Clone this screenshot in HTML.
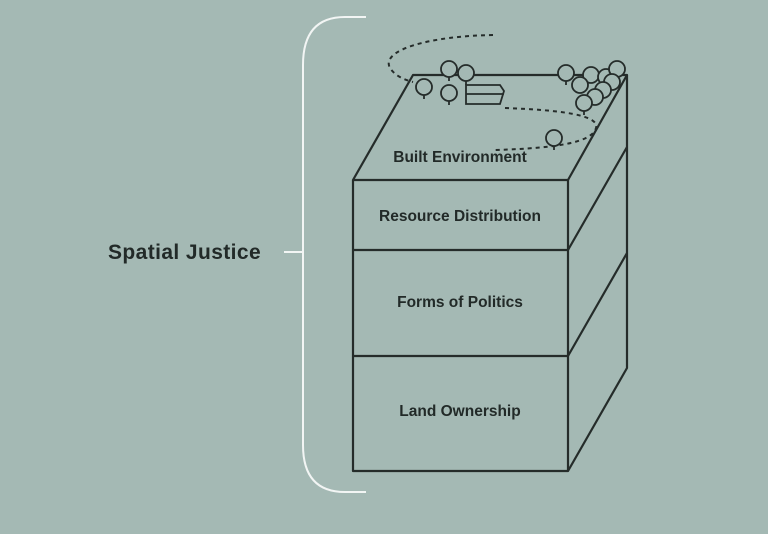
<!DOCTYPE html>
<html><head><meta charset="utf-8"><style>
html,body{margin:0;padding:0;background:#a4b9b4;}
svg{display:block}
text{font-family:"Liberation Sans",sans-serif;font-weight:bold;fill:#222a28;}
</style></head><body>
<svg width="768" height="534" viewBox="0 0 768 534" xmlns="http://www.w3.org/2000/svg">
<rect width="768" height="534" fill="#a4b9b4"/>
<!-- brace -->
<path d="M366 17 H345 Q303 17 303 65 V445 Q303 492 345 492 H366 M284 252 H303" fill="none" stroke="#f2f5f4" stroke-width="2"/>
<text x="108" y="259" font-size="21" letter-spacing="0.4">Spatial Justice</text>
<g fill="none" stroke="#252c2a" stroke-width="2.2" stroke-linejoin="round">
<path d="M413 75 H627 L568 180 H353 Z"/>
<path d="M353 180 V471 H568 V180"/>
<path d="M353 250 H568 M353 356 H568"/>
<path d="M627 75 V368 L568 471"/>
<path d="M568 250 L627 147 M568 356 L627 253"/>
</g>
<path d="M493 35 C430 36 380 50 390 68 C395 76 405 80 413 82 M505 108 C560 110 600 115 596 128 C592 142 560 148 495 150" fill="none" stroke="#252c2a" stroke-width="2" stroke-dasharray="4 4"/>
<g fill="#a4b9b4" stroke="#252c2a" stroke-width="1.8">
<circle cx="449" cy="69" r="8"/><line x1="449" y1="77" x2="449" y2="81"/>
<circle cx="466" cy="73" r="8"/><line x1="466" y1="81" x2="466" y2="85"/>
<circle cx="424" cy="87" r="8"/><line x1="424" y1="95" x2="424" y2="99"/>
<circle cx="449" cy="93" r="8"/><line x1="449" y1="101" x2="449" y2="105"/>
<circle cx="566" cy="73" r="8"/><line x1="566" y1="81" x2="566" y2="85"/>
<circle cx="591" cy="75" r="8"/><circle cx="606" cy="77" r="8"/>
<circle cx="617" cy="69" r="8"/><circle cx="612" cy="82" r="8"/>
<circle cx="580" cy="85" r="8"/><circle cx="603" cy="90" r="8"/>
<circle cx="595" cy="97" r="8"/><circle cx="584" cy="103" r="8"/><line x1="584" y1="111" x2="584" y2="115"/>
<circle cx="554" cy="138" r="8"/><line x1="554" y1="146" x2="554" y2="150"/>
<path d="M466 85 H500 L504 91 L500 104 H466 Z M466 94 H504"/>
</g>
<text x="460" y="162" font-size="15.5" text-anchor="middle">Built Environment</text>
<text x="460" y="221" font-size="15.5" text-anchor="middle">Resource Distribution</text>
<text x="460" y="307" font-size="15.5" text-anchor="middle">Forms of Politics</text>
<text x="460" y="416" font-size="15.5" text-anchor="middle">Land Ownership</text>
</svg>
</body></html>
